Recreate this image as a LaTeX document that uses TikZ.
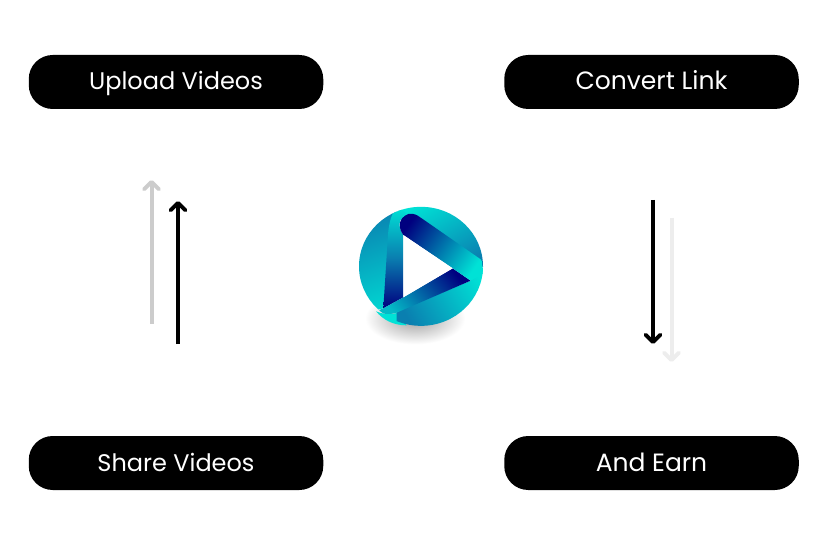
\documentclass[tikz,border=0pt]{standalone}
\usepackage{fontspec}
\setmainfont{Poppins}
\usetikzlibrary{arrows.meta}
\definecolor{cy}{HTML}{00E2D6}
\definecolor{tl}{HTML}{0A7FB0}
\definecolor{nv}{HTML}{00007F}
\tikzset{
 pill/.style={fill=black,text=white,rounded corners=24pt,minimum width=294.5pt,minimum height=54pt,inner sep=0pt,font=\fontsize{24}{26}\selectfont,text height=16pt,text depth=0pt},
 upa/.style={line width=4pt,-{Straight Barb[length=7.5pt,width=15pt,line width=3.8pt,round]}},
}
\begin{document}
\begin{tikzpicture}[x=1pt,y=-1pt]
\useasboundingbox (0,0) rectangle (830,545);
\fill[white] (0,0) rectangle (830,545);
\node[pill] (upload) at (176,82) {Upload Videos};
\node[pill,font=\fontsize{25}{26}\selectfont] (convert) at (651.5,82) {Convert Link};
\node[pill] (share) at (176,463) {Share Videos};
\node[pill,font=\fontsize{25}{26}\selectfont] (earn) at (651.5,463) {And Earn};
\coordinate (a1s) at (151.5,324); \coordinate (a1e) at (151.5,180);
\coordinate (a2s) at (178,344); \coordinate (a2e) at (178,201);
\coordinate (a3s) at (653,200); \coordinate (a3e) at (653,344);
\coordinate (a4s) at (671.5,218); \coordinate (a4e) at (671.5,362);
\draw[upa,color=black!20] (a1s) -- (a1e);
\draw[upa,black] (a2s) -- (a2e);
\draw[upa,black] (a3s) -- (a3e);
\draw[upa,color=black!7] (a4s) -- (a4e);
\begin{scope}[shift={(340,190)},x=0.33333pt,y=-0.33333pt]
% shadow
\shade[inner color=black!38,outer color=white] (225,385) ellipse [x radius=50pt,y radius=26pt];
% protruding tip
\fill[cy] (108,364) .. controls (125,372) and (150,375) .. (175,368) -- (200,406) .. controls (160,406) and (130,390) .. cycle;
\begin{scope}
\path[clip] (243,229) ellipse [x radius=62pt,y radius=59.5pt];
\shade[top color=tl,bottom color=cy,shading angle=20] (40,30) -- (175,30) -- (150,200) -- (130,355) -- (100,362) -- (190,430) -- (40,430) -- cycle;
\shade[left color=cy,right color=tl,shading angle=30] (165,30) -- (440,30) -- (440,240) -- (235,78) -- (180,90) -- cycle;
\shade[left color=tl,right color=cy,shading angle=120] (392,272) -- (425,210) -- (440,420) -- (170,420) -- (170,365) -- cycle;
% left band
\shade[top color=cy,bottom color=nv,middle color=tl] (172,50) .. controls (150,75) and (145,110) .. (143,150) -- (130,355) -- (190,322) -- (190,135) .. controls (175,115) and (172,85) .. (200,70) -- cycle;
% bottom swoosh
\shade[left color=cy!60!tl,middle color=tl,right color=nv,shading angle=130] (338,235) -- (392,272) -- (170,368) .. controls (150,375) and (125,372) .. (108,364) -- (130,355) -- (190,322) -- cycle;
% top band
\shade[left color=nv,middle color=tl,right color=cy,shading angle=55] (190,135) .. controls (175,115) and (172,85) .. (205,72) .. controls (215,70) and (225,72) .. (235,78) -- (422,208) -- (432,250) -- (392,272) -- (338,235) -- cycle;
\end{scope}
\fill[white] (190,135) -- (338,235) -- (190,322) -- cycle;
\end{scope}
\end{tikzpicture}
\end{document}
